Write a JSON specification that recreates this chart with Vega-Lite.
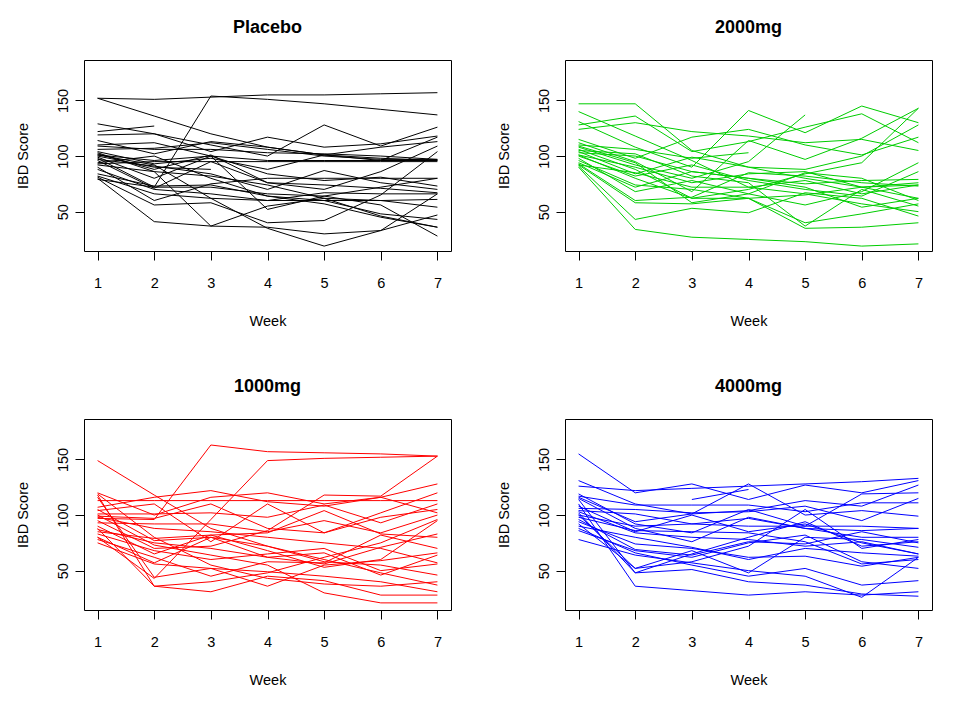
{
"$schema": "https://vega.github.io/schema/vega-lite/v6.json",
"background": "white",
"padding": {"left": 14, "top": 18, "right": 5, "bottom": 5},
"datasets": {"ibd": [
{"g":"Placebo","s":"P1","w":1,"v":152},{"g":"Placebo","s":"P1","w":2,"v":151},{"g":"Placebo","s":"P1","w":3,"v":153},{"g":"Placebo","s":"P1","w":4,"v":155},{"g":"Placebo","s":"P1","w":5,"v":155},{"g":"Placebo","s":"P1","w":6,"v":156},{"g":"Placebo","s":"P1","w":7,"v":157},
{"g":"Placebo","s":"P2","w":1,"v":98},{"g":"Placebo","s":"P2","w":2,"v":72},{"g":"Placebo","s":"P2","w":3,"v":154},{"g":"Placebo","s":"P2","w":4,"v":151},{"g":"Placebo","s":"P2","w":5,"v":147},{"g":"Placebo","s":"P2","w":6,"v":142},{"g":"Placebo","s":"P2","w":7,"v":137},
{"g":"Placebo","s":"P3","w":1,"v":152},{"g":"Placebo","s":"P3","w":2,"v":136},{"g":"Placebo","s":"P3","w":3,"v":120},{"g":"Placebo","s":"P3","w":4,"v":108},{"g":"Placebo","s":"P3","w":5,"v":101},{"g":"Placebo","s":"P3","w":6,"v":98},{"g":"Placebo","s":"P3","w":7,"v":96},
{"g":"Placebo","s":"P4","w":1,"v":122},{"g":"Placebo","s":"P4","w":2,"v":127},
{"g":"Placebo","s":"P5","w":1,"v":129},{"g":"Placebo","s":"P5","w":2,"v":120},{"g":"Placebo","s":"P5","w":3,"v":110},{"g":"Placebo","s":"P5","w":4,"v":100},{"g":"Placebo","s":"P5","w":5,"v":128},{"g":"Placebo","s":"P5","w":6,"v":109},{"g":"Placebo","s":"P5","w":7,"v":126},
{"g":"Placebo","s":"P6","w":1,"v":119},{"g":"Placebo","s":"P6","w":2,"v":120},{"g":"Placebo","s":"P6","w":3,"v":104},{"g":"Placebo","s":"P6","w":4,"v":117},{"g":"Placebo","s":"P6","w":5,"v":108},{"g":"Placebo","s":"P6","w":6,"v":111},{"g":"Placebo","s":"P6","w":7,"v":118},
{"g":"Placebo","s":"P7","w":1,"v":114},{"g":"Placebo","s":"P7","w":2,"v":102},{"g":"Placebo","s":"P7","w":3,"v":113},{"g":"Placebo","s":"P7","w":4,"v":108},{"g":"Placebo","s":"P7","w":5,"v":101},{"g":"Placebo","s":"P7","w":6,"v":96},{"g":"Placebo","s":"P7","w":7,"v":117},
{"g":"Placebo","s":"P8","w":1,"v":109},{"g":"Placebo","s":"P8","w":2,"v":106},{"g":"Placebo","s":"P8","w":3,"v":106},{"g":"Placebo","s":"P8","w":4,"v":103},{"g":"Placebo","s":"P8","w":5,"v":102},{"g":"Placebo","s":"P8","w":6,"v":100},{"g":"Placebo","s":"P8","w":7,"v":97},
{"g":"Placebo","s":"P9","w":1,"v":106},{"g":"Placebo","s":"P9","w":2,"v":107},{"g":"Placebo","s":"P9","w":3,"v":112},{"g":"Placebo","s":"P9","w":4,"v":106},{"g":"Placebo","s":"P9","w":5,"v":100},{"g":"Placebo","s":"P9","w":6,"v":97},{"g":"Placebo","s":"P9","w":7,"v":97},
{"g":"Placebo","s":"P10","w":1,"v":104},{"g":"Placebo","s":"P10","w":2,"v":93},{"g":"Placebo","s":"P10","w":3,"v":98},{"g":"Placebo","s":"P10","w":4,"v":88},{"g":"Placebo","s":"P10","w":5,"v":101},{"g":"Placebo","s":"P10","w":6,"v":108},{"g":"Placebo","s":"P10","w":7,"v":113},
{"g":"Placebo","s":"P11","w":1,"v":102},{"g":"Placebo","s":"P11","w":2,"v":88},{"g":"Placebo","s":"P11","w":3,"v":101},{"g":"Placebo","s":"P11","w":4,"v":76},{"g":"Placebo","s":"P11","w":5,"v":70},{"g":"Placebo","s":"P11","w":6,"v":86},{"g":"Placebo","s":"P11","w":7,"v":109},
{"g":"Placebo","s":"P12","w":1,"v":101},{"g":"Placebo","s":"P12","w":2,"v":96},{"g":"Placebo","s":"P12","w":3,"v":100},{"g":"Placebo","s":"P12","w":4,"v":84},{"g":"Placebo","s":"P12","w":5,"v":78},{"g":"Placebo","s":"P12","w":6,"v":81},{"g":"Placebo","s":"P12","w":7,"v":73},
{"g":"Placebo","s":"P13","w":1,"v":100},{"g":"Placebo","s":"P13","w":2,"v":90},{"g":"Placebo","s":"P13","w":3,"v":88},
{"g":"Placebo","s":"P14","w":1,"v":99},{"g":"Placebo","s":"P14","w":2,"v":80},{"g":"Placebo","s":"P14","w":3,"v":100},{"g":"Placebo","s":"P14","w":4,"v":52},{"g":"Placebo","s":"P14","w":5,"v":64},{"g":"Placebo","s":"P14","w":6,"v":72},{"g":"Placebo","s":"P14","w":7,"v":80},
{"g":"Placebo","s":"P15","w":1,"v":97},{"g":"Placebo","s":"P15","w":2,"v":91},{"g":"Placebo","s":"P15","w":3,"v":84},{"g":"Placebo","s":"P15","w":4,"v":70},{"g":"Placebo","s":"P15","w":5,"v":87},{"g":"Placebo","s":"P15","w":6,"v":76},{"g":"Placebo","s":"P15","w":7,"v":70},
{"g":"Placebo","s":"P16","w":1,"v":94},{"g":"Placebo","s":"P16","w":2,"v":100},{"g":"Placebo","s":"P16","w":3,"v":80},{"g":"Placebo","s":"P16","w":4,"v":64},{"g":"Placebo","s":"P16","w":5,"v":60},{"g":"Placebo","s":"P16","w":6,"v":48},{"g":"Placebo","s":"P16","w":7,"v":43},
{"g":"Placebo","s":"P17","w":1,"v":92},{"g":"Placebo","s":"P17","w":2,"v":86},{"g":"Placebo","s":"P17","w":3,"v":82},{"g":"Placebo","s":"P17","w":4,"v":74},{"g":"Placebo","s":"P17","w":5,"v":62},{"g":"Placebo","s":"P17","w":6,"v":46},{"g":"Placebo","s":"P17","w":7,"v":36},
{"g":"Placebo","s":"P18","w":1,"v":90},{"g":"Placebo","s":"P18","w":2,"v":60},{"g":"Placebo","s":"P18","w":3,"v":75},{"g":"Placebo","s":"P18","w":4,"v":80},{"g":"Placebo","s":"P18","w":5,"v":80},{"g":"Placebo","s":"P18","w":6,"v":80},{"g":"Placebo","s":"P18","w":7,"v":80},
{"g":"Placebo","s":"P19","w":1,"v":88},{"g":"Placebo","s":"P19","w":2,"v":70},{"g":"Placebo","s":"P19","w":3,"v":66},{"g":"Placebo","s":"P19","w":4,"v":60},{"g":"Placebo","s":"P19","w":5,"v":60},{"g":"Placebo","s":"P19","w":6,"v":60},{"g":"Placebo","s":"P19","w":7,"v":61},
{"g":"Placebo","s":"P20","w":1,"v":84},{"g":"Placebo","s":"P20","w":2,"v":73},{"g":"Placebo","s":"P20","w":3,"v":74},{"g":"Placebo","s":"P20","w":4,"v":64},{"g":"Placebo","s":"P20","w":5,"v":57},{"g":"Placebo","s":"P20","w":6,"v":45},{"g":"Placebo","s":"P20","w":7,"v":36},
{"g":"Placebo","s":"P21","w":1,"v":82},{"g":"Placebo","s":"P21","w":2,"v":66},{"g":"Placebo","s":"P21","w":3,"v":62},{"g":"Placebo","s":"P21","w":4,"v":60},{"g":"Placebo","s":"P21","w":5,"v":67},{"g":"Placebo","s":"P21","w":6,"v":66},{"g":"Placebo","s":"P21","w":7,"v":66},
{"g":"Placebo","s":"P22","w":1,"v":81},{"g":"Placebo","s":"P22","w":2,"v":56},{"g":"Placebo","s":"P22","w":3,"v":58},{"g":"Placebo","s":"P22","w":4,"v":40},{"g":"Placebo","s":"P22","w":5,"v":42},{"g":"Placebo","s":"P22","w":6,"v":65},{"g":"Placebo","s":"P22","w":7,"v":104},
{"g":"Placebo","s":"P23","w":1,"v":80},{"g":"Placebo","s":"P23","w":2,"v":41},{"g":"Placebo","s":"P23","w":3,"v":37},{"g":"Placebo","s":"P23","w":4,"v":36},{"g":"Placebo","s":"P23","w":5,"v":30},{"g":"Placebo","s":"P23","w":6,"v":33},{"g":"Placebo","s":"P23","w":7,"v":47},
{"g":"Placebo","s":"P24","w":1,"v":103},{"g":"Placebo","s":"P24","w":2,"v":86},{"g":"Placebo","s":"P24","w":3,"v":37},{"g":"Placebo","s":"P24","w":4,"v":55},{"g":"Placebo","s":"P24","w":5,"v":62},{"g":"Placebo","s":"P24","w":6,"v":60},{"g":"Placebo","s":"P24","w":7,"v":54},
{"g":"Placebo","s":"P25","w":1,"v":101},{"g":"Placebo","s":"P25","w":2,"v":92},{"g":"Placebo","s":"P25","w":3,"v":62},{"g":"Placebo","s":"P25","w":4,"v":35},{"g":"Placebo","s":"P25","w":5,"v":19},{"g":"Placebo","s":"P25","w":6,"v":33},{"g":"Placebo","s":"P25","w":7,"v":66},
{"g":"Placebo","s":"P26","w":1,"v":96},{"g":"Placebo","s":"P26","w":2,"v":71},{"g":"Placebo","s":"P26","w":3,"v":95},{"g":"Placebo","s":"P26","w":4,"v":76},{"g":"Placebo","s":"P26","w":5,"v":74},{"g":"Placebo","s":"P26","w":6,"v":71},{"g":"Placebo","s":"P26","w":7,"v":67},
{"g":"Placebo","s":"P27","w":1,"v":79},{"g":"Placebo","s":"P27","w":2,"v":72},{"g":"Placebo","s":"P27","w":3,"v":72},{"g":"Placebo","s":"P27","w":4,"v":66},{"g":"Placebo","s":"P27","w":5,"v":64},{"g":"Placebo","s":"P27","w":6,"v":56},{"g":"Placebo","s":"P27","w":7,"v":28},
{"g":"Placebo","s":"P28","w":1,"v":110},{"g":"Placebo","s":"P28","w":2,"v":112},{"g":"Placebo","s":"P28","w":3,"v":100},{"g":"Placebo","s":"P28","w":4,"v":96},{"g":"Placebo","s":"P28","w":5,"v":96},{"g":"Placebo","s":"P28","w":6,"v":96},{"g":"Placebo","s":"P28","w":7,"v":96},
{"g":"Placebo","s":"P29","w":1,"v":93},{"g":"Placebo","s":"P29","w":2,"v":95},{"g":"Placebo","s":"P29","w":3,"v":95},{"g":"Placebo","s":"P29","w":4,"v":95},{"g":"Placebo","s":"P29","w":5,"v":95},{"g":"Placebo","s":"P29","w":6,"v":95},{"g":"Placebo","s":"P29","w":7,"v":95},
{"g":"2000mg","s":"G1","w":1,"v":147},{"g":"2000mg","s":"G1","w":2,"v":147},{"g":"2000mg","s":"G1","w":3,"v":105},{"g":"2000mg","s":"G1","w":4,"v":90},{"g":"2000mg","s":"G1","w":5,"v":80},{"g":"2000mg","s":"G1","w":6,"v":72},{"g":"2000mg","s":"G1","w":7,"v":62},
{"g":"2000mg","s":"G2","w":1,"v":140},{"g":"2000mg","s":"G2","w":2,"v":118},{"g":"2000mg","s":"G2","w":3,"v":96},{"g":"2000mg","s":"G2","w":4,"v":72},{"g":"2000mg","s":"G2","w":5,"v":66},{"g":"2000mg","s":"G2","w":6,"v":57},{"g":"2000mg","s":"G2","w":7,"v":50},
{"g":"2000mg","s":"G3","w":1,"v":128},{"g":"2000mg","s":"G3","w":2,"v":136},{"g":"2000mg","s":"G3","w":3,"v":104},{"g":"2000mg","s":"G3","w":4,"v":113},{"g":"2000mg","s":"G3","w":5,"v":126},{"g":"2000mg","s":"G3","w":6,"v":138},{"g":"2000mg","s":"G3","w":7,"v":112},
{"g":"2000mg","s":"G4","w":1,"v":124},{"g":"2000mg","s":"G4","w":2,"v":130},{"g":"2000mg","s":"G4","w":3,"v":122},{"g":"2000mg","s":"G4","w":4,"v":118},{"g":"2000mg","s":"G4","w":5,"v":112},{"g":"2000mg","s":"G4","w":6,"v":115},{"g":"2000mg","s":"G4","w":7,"v":105},
{"g":"2000mg","s":"G5","w":1,"v":131},{"g":"2000mg","s":"G5","w":2,"v":108},{"g":"2000mg","s":"G5","w":3,"v":90},{"g":"2000mg","s":"G5","w":4,"v":141},{"g":"2000mg","s":"G5","w":5,"v":121},{"g":"2000mg","s":"G5","w":6,"v":145},{"g":"2000mg","s":"G5","w":7,"v":130},
{"g":"2000mg","s":"G6","w":1,"v":115},{"g":"2000mg","s":"G6","w":2,"v":98},{"g":"2000mg","s":"G6","w":3,"v":117},{"g":"2000mg","s":"G6","w":4,"v":124},{"g":"2000mg","s":"G6","w":5,"v":110},{"g":"2000mg","s":"G6","w":6,"v":101},{"g":"2000mg","s":"G6","w":7,"v":117},
{"g":"2000mg","s":"G7","w":1,"v":112},{"g":"2000mg","s":"G7","w":2,"v":95},{"g":"2000mg","s":"G7","w":3,"v":68},{"g":"2000mg","s":"G7","w":4,"v":114},{"g":"2000mg","s":"G7","w":5,"v":97},{"g":"2000mg","s":"G7","w":6,"v":116},{"g":"2000mg","s":"G7","w":7,"v":143},
{"g":"2000mg","s":"G8","w":1,"v":110},{"g":"2000mg","s":"G8","w":2,"v":106},{"g":"2000mg","s":"G8","w":3,"v":98},{"g":"2000mg","s":"G8","w":4,"v":103},
{"g":"2000mg","s":"G9","w":1,"v":108},{"g":"2000mg","s":"G9","w":2,"v":92},{"g":"2000mg","s":"G9","w":3,"v":80},{"g":"2000mg","s":"G9","w":4,"v":95},{"g":"2000mg","s":"G9","w":5,"v":137},
{"g":"2000mg","s":"G10","w":1,"v":106},{"g":"2000mg","s":"G10","w":2,"v":88},{"g":"2000mg","s":"G10","w":3,"v":62},{"g":"2000mg","s":"G10","w":4,"v":70},{"g":"2000mg","s":"G10","w":5,"v":84},{"g":"2000mg","s":"G10","w":6,"v":94},{"g":"2000mg","s":"G10","w":7,"v":143},
{"g":"2000mg","s":"G11","w":1,"v":104},{"g":"2000mg","s":"G11","w":2,"v":84},{"g":"2000mg","s":"G11","w":3,"v":99},{"g":"2000mg","s":"G11","w":4,"v":90},{"g":"2000mg","s":"G11","w":5,"v":88},{"g":"2000mg","s":"G11","w":6,"v":100},{"g":"2000mg","s":"G11","w":7,"v":128},
{"g":"2000mg","s":"G12","w":1,"v":103},{"g":"2000mg","s":"G12","w":2,"v":100},{"g":"2000mg","s":"G12","w":3,"v":86},{"g":"2000mg","s":"G12","w":4,"v":80},{"g":"2000mg","s":"G12","w":5,"v":75},{"g":"2000mg","s":"G12","w":6,"v":78},{"g":"2000mg","s":"G12","w":7,"v":79},
{"g":"2000mg","s":"G13","w":1,"v":101},{"g":"2000mg","s":"G13","w":2,"v":90},{"g":"2000mg","s":"G13","w":3,"v":76},{"g":"2000mg","s":"G13","w":4,"v":84},{"g":"2000mg","s":"G13","w":5,"v":86},{"g":"2000mg","s":"G13","w":6,"v":72},{"g":"2000mg","s":"G13","w":7,"v":74},
{"g":"2000mg","s":"G14","w":1,"v":100},{"g":"2000mg","s":"G14","w":2,"v":82},{"g":"2000mg","s":"G14","w":3,"v":92},{"g":"2000mg","s":"G14","w":4,"v":78},{"g":"2000mg","s":"G14","w":5,"v":70},{"g":"2000mg","s":"G14","w":6,"v":64},{"g":"2000mg","s":"G14","w":7,"v":86},
{"g":"2000mg","s":"G15","w":1,"v":98},{"g":"2000mg","s":"G15","w":2,"v":68},{"g":"2000mg","s":"G15","w":3,"v":78},{"g":"2000mg","s":"G15","w":4,"v":66},{"g":"2000mg","s":"G15","w":5,"v":56},{"g":"2000mg","s":"G15","w":6,"v":68},{"g":"2000mg","s":"G15","w":7,"v":94},
{"g":"2000mg","s":"G16","w":1,"v":96},{"g":"2000mg","s":"G16","w":2,"v":74},{"g":"2000mg","s":"G16","w":3,"v":70},{"g":"2000mg","s":"G16","w":4,"v":62},{"g":"2000mg","s":"G16","w":5,"v":40},{"g":"2000mg","s":"G16","w":6,"v":48},{"g":"2000mg","s":"G16","w":7,"v":57},
{"g":"2000mg","s":"G17","w":1,"v":93},{"g":"2000mg","s":"G17","w":2,"v":60},{"g":"2000mg","s":"G17","w":3,"v":63},{"g":"2000mg","s":"G17","w":4,"v":85},{"g":"2000mg","s":"G17","w":5,"v":82},{"g":"2000mg","s":"G17","w":6,"v":76},{"g":"2000mg","s":"G17","w":7,"v":73},
{"g":"2000mg","s":"G18","w":1,"v":92},{"g":"2000mg","s":"G18","w":2,"v":58},{"g":"2000mg","s":"G18","w":3,"v":57},{"g":"2000mg","s":"G18","w":4,"v":62},{"g":"2000mg","s":"G18","w":5,"v":65},{"g":"2000mg","s":"G18","w":6,"v":72},{"g":"2000mg","s":"G18","w":7,"v":76},
{"g":"2000mg","s":"G19","w":1,"v":91},{"g":"2000mg","s":"G19","w":2,"v":43},{"g":"2000mg","s":"G19","w":3,"v":53},{"g":"2000mg","s":"G19","w":4,"v":49},{"g":"2000mg","s":"G19","w":5,"v":67},{"g":"2000mg","s":"G19","w":6,"v":62},{"g":"2000mg","s":"G19","w":7,"v":46},
{"g":"2000mg","s":"G20","w":1,"v":90},{"g":"2000mg","s":"G20","w":2,"v":34},{"g":"2000mg","s":"G20","w":3,"v":27},{"g":"2000mg","s":"G20","w":4,"v":25},{"g":"2000mg","s":"G20","w":5,"v":23},{"g":"2000mg","s":"G20","w":6,"v":19},{"g":"2000mg","s":"G20","w":7,"v":21},
{"g":"2000mg","s":"G21","w":1,"v":101},{"g":"2000mg","s":"G21","w":2,"v":80},{"g":"2000mg","s":"G21","w":3,"v":62},{"g":"2000mg","s":"G21","w":4,"v":62},{"g":"2000mg","s":"G21","w":5,"v":35},{"g":"2000mg","s":"G21","w":6,"v":36},{"g":"2000mg","s":"G21","w":7,"v":40},
{"g":"2000mg","s":"G22","w":1,"v":105},{"g":"2000mg","s":"G22","w":2,"v":102},{"g":"2000mg","s":"G22","w":3,"v":82},{"g":"2000mg","s":"G22","w":4,"v":76},{"g":"2000mg","s":"G22","w":5,"v":37},{"g":"2000mg","s":"G22","w":6,"v":70},{"g":"2000mg","s":"G22","w":7,"v":55},
{"g":"2000mg","s":"G23","w":1,"v":94},{"g":"2000mg","s":"G23","w":2,"v":72},{"g":"2000mg","s":"G23","w":3,"v":86},{"g":"2000mg","s":"G23","w":4,"v":80},{"g":"2000mg","s":"G23","w":5,"v":72},{"g":"2000mg","s":"G23","w":6,"v":54},{"g":"2000mg","s":"G23","w":7,"v":62},
{"g":"2000mg","s":"G24","w":1,"v":109},{"g":"2000mg","s":"G24","w":2,"v":94},{"g":"2000mg","s":"G24","w":3,"v":58},{"g":"2000mg","s":"G24","w":4,"v":66},{"g":"2000mg","s":"G24","w":5,"v":85},{"g":"2000mg","s":"G24","w":6,"v":80},{"g":"2000mg","s":"G24","w":7,"v":60},
{"g":"2000mg","s":"G25","w":1,"v":92},{"g":"2000mg","s":"G25","w":2,"v":85},{"g":"2000mg","s":"G25","w":3,"v":72},{"g":"2000mg","s":"G25","w":4,"v":72},{"g":"2000mg","s":"G25","w":5,"v":78},{"g":"2000mg","s":"G25","w":6,"v":66},{"g":"2000mg","s":"G25","w":7,"v":74},
{"g":"1000mg","s":"R1","w":1,"v":149},{"g":"1000mg","s":"R1","w":2,"v":118},{"g":"1000mg","s":"R1","w":3,"v":88},{"g":"1000mg","s":"R1","w":4,"v":72},{"g":"1000mg","s":"R1","w":5,"v":60},{"g":"1000mg","s":"R1","w":6,"v":48},{"g":"1000mg","s":"R1","w":7,"v":37},
{"g":"1000mg","s":"R2","w":1,"v":97},{"g":"1000mg","s":"R2","w":2,"v":96},{"g":"1000mg","s":"R2","w":3,"v":163},{"g":"1000mg","s":"R2","w":4,"v":157},{"g":"1000mg","s":"R2","w":5,"v":156},{"g":"1000mg","s":"R2","w":6,"v":155},{"g":"1000mg","s":"R2","w":7,"v":153},
{"g":"1000mg","s":"R3","w":1,"v":80},{"g":"1000mg","s":"R3","w":2,"v":43},{"g":"1000mg","s":"R3","w":3,"v":96},{"g":"1000mg","s":"R3","w":4,"v":149},{"g":"1000mg","s":"R3","w":5,"v":151},{"g":"1000mg","s":"R3","w":6,"v":152},{"g":"1000mg","s":"R3","w":7,"v":153},
{"g":"1000mg","s":"R4","w":1,"v":113},{"g":"1000mg","s":"R4","w":2,"v":113},{"g":"1000mg","s":"R4","w":3,"v":113},{"g":"1000mg","s":"R4","w":4,"v":113},{"g":"1000mg","s":"R4","w":5,"v":113},{"g":"1000mg","s":"R4","w":6,"v":113},{"g":"1000mg","s":"R4","w":7,"v":113},
{"g":"1000mg","s":"R5","w":1,"v":120},{"g":"1000mg","s":"R5","w":2,"v":100},{"g":"1000mg","s":"R5","w":3,"v":116},{"g":"1000mg","s":"R5","w":4,"v":120},{"g":"1000mg","s":"R5","w":5,"v":110},{"g":"1000mg","s":"R5","w":6,"v":116},{"g":"1000mg","s":"R5","w":7,"v":102},
{"g":"1000mg","s":"R6","w":1,"v":118},{"g":"1000mg","s":"R6","w":2,"v":36},{"g":"1000mg","s":"R6","w":3,"v":40},{"g":"1000mg","s":"R6","w":4,"v":48},{"g":"1000mg","s":"R6","w":5,"v":62},{"g":"1000mg","s":"R6","w":6,"v":75},{"g":"1000mg","s":"R6","w":7,"v":96},
{"g":"1000mg","s":"R7","w":1,"v":116},{"g":"1000mg","s":"R7","w":2,"v":44},{"g":"1000mg","s":"R7","w":3,"v":52},{"g":"1000mg","s":"R7","w":4,"v":36},{"g":"1000mg","s":"R7","w":5,"v":55},{"g":"1000mg","s":"R7","w":6,"v":59},{"g":"1000mg","s":"R7","w":7,"v":66},
{"g":"1000mg","s":"R8","w":1,"v":107},{"g":"1000mg","s":"R8","w":2,"v":116},{"g":"1000mg","s":"R8","w":3,"v":122},{"g":"1000mg","s":"R8","w":4,"v":112},{"g":"1000mg","s":"R8","w":5,"v":108},{"g":"1000mg","s":"R8","w":6,"v":116},{"g":"1000mg","s":"R8","w":7,"v":128},
{"g":"1000mg","s":"R9","w":1,"v":104},{"g":"1000mg","s":"R9","w":2,"v":110},{"g":"1000mg","s":"R9","w":3,"v":76},{"g":"1000mg","s":"R9","w":4,"v":110},{"g":"1000mg","s":"R9","w":5,"v":84},{"g":"1000mg","s":"R9","w":6,"v":102},{"g":"1000mg","s":"R9","w":7,"v":120},
{"g":"1000mg","s":"R10","w":1,"v":101},{"g":"1000mg","s":"R10","w":2,"v":101},{"g":"1000mg","s":"R10","w":3,"v":102},{"g":"1000mg","s":"R10","w":4,"v":98},{"g":"1000mg","s":"R10","w":5,"v":109},{"g":"1000mg","s":"R10","w":6,"v":93},{"g":"1000mg","s":"R10","w":7,"v":110},
{"g":"1000mg","s":"R11","w":1,"v":99},{"g":"1000mg","s":"R11","w":2,"v":97},{"g":"1000mg","s":"R11","w":3,"v":110},{"g":"1000mg","s":"R11","w":4,"v":88},{"g":"1000mg","s":"R11","w":5,"v":84},{"g":"1000mg","s":"R11","w":6,"v":98},{"g":"1000mg","s":"R11","w":7,"v":105},
{"g":"1000mg","s":"R12","w":1,"v":95},{"g":"1000mg","s":"R12","w":2,"v":70},{"g":"1000mg","s":"R12","w":3,"v":72},{"g":"1000mg","s":"R12","w":4,"v":86},{"g":"1000mg","s":"R12","w":5,"v":118},{"g":"1000mg","s":"R12","w":6,"v":117},{"g":"1000mg","s":"R12","w":7,"v":153},
{"g":"1000mg","s":"R13","w":1,"v":93},{"g":"1000mg","s":"R13","w":2,"v":92},{"g":"1000mg","s":"R13","w":3,"v":92},{"g":"1000mg","s":"R13","w":4,"v":85},{"g":"1000mg","s":"R13","w":5,"v":95},{"g":"1000mg","s":"R13","w":6,"v":84},{"g":"1000mg","s":"R13","w":7,"v":100},
{"g":"1000mg","s":"R14","w":1,"v":90},{"g":"1000mg","s":"R14","w":2,"v":65},{"g":"1000mg","s":"R14","w":3,"v":82},{"g":"1000mg","s":"R14","w":4,"v":84},{"g":"1000mg","s":"R14","w":5,"v":104},{"g":"1000mg","s":"R14","w":6,"v":83},{"g":"1000mg","s":"R14","w":7,"v":80},
{"g":"1000mg","s":"R15","w":1,"v":87},{"g":"1000mg","s":"R15","w":2,"v":75},{"g":"1000mg","s":"R15","w":3,"v":70},{"g":"1000mg","s":"R15","w":4,"v":62},{"g":"1000mg","s":"R15","w":5,"v":56},{"g":"1000mg","s":"R15","w":6,"v":71},{"g":"1000mg","s":"R15","w":7,"v":83},
{"g":"1000mg","s":"R16","w":1,"v":85},{"g":"1000mg","s":"R16","w":2,"v":79},{"g":"1000mg","s":"R16","w":3,"v":82},{"g":"1000mg","s":"R16","w":4,"v":68},{"g":"1000mg","s":"R16","w":5,"v":53},{"g":"1000mg","s":"R16","w":6,"v":60},{"g":"1000mg","s":"R16","w":7,"v":95},
{"g":"1000mg","s":"R17","w":1,"v":83},{"g":"1000mg","s":"R17","w":2,"v":68},{"g":"1000mg","s":"R17","w":3,"v":60},{"g":"1000mg","s":"R17","w":4,"v":65},{"g":"1000mg","s":"R17","w":5,"v":70},{"g":"1000mg","s":"R17","w":6,"v":50},{"g":"1000mg","s":"R17","w":7,"v":56},
{"g":"1000mg","s":"R18","w":1,"v":80},{"g":"1000mg","s":"R18","w":2,"v":57},{"g":"1000mg","s":"R18","w":3,"v":80},{"g":"1000mg","s":"R18","w":4,"v":62},{"g":"1000mg","s":"R18","w":5,"v":66},{"g":"1000mg","s":"R18","w":6,"v":46},{"g":"1000mg","s":"R18","w":7,"v":64},
{"g":"1000mg","s":"R19","w":1,"v":78},{"g":"1000mg","s":"R19","w":2,"v":62},{"g":"1000mg","s":"R19","w":3,"v":45},{"g":"1000mg","s":"R19","w":4,"v":58},{"g":"1000mg","s":"R19","w":5,"v":57},{"g":"1000mg","s":"R19","w":6,"v":82},{"g":"1000mg","s":"R19","w":7,"v":70},
{"g":"1000mg","s":"R20","w":1,"v":75},{"g":"1000mg","s":"R20","w":2,"v":56},{"g":"1000mg","s":"R20","w":3,"v":52},{"g":"1000mg","s":"R20","w":4,"v":49},{"g":"1000mg","s":"R20","w":5,"v":45},{"g":"1000mg","s":"R20","w":6,"v":40},{"g":"1000mg","s":"R20","w":7,"v":31},
{"g":"1000mg","s":"R21","w":1,"v":100},{"g":"1000mg","s":"R21","w":2,"v":73},{"g":"1000mg","s":"R21","w":3,"v":64},{"g":"1000mg","s":"R21","w":4,"v":55},{"g":"1000mg","s":"R21","w":5,"v":30},{"g":"1000mg","s":"R21","w":6,"v":21},{"g":"1000mg","s":"R21","w":7,"v":21},
{"g":"1000mg","s":"R22","w":1,"v":88},{"g":"1000mg","s":"R22","w":2,"v":36},{"g":"1000mg","s":"R22","w":3,"v":31},{"g":"1000mg","s":"R22","w":4,"v":45},{"g":"1000mg","s":"R22","w":5,"v":41},{"g":"1000mg","s":"R22","w":6,"v":28},{"g":"1000mg","s":"R22","w":7,"v":28},
{"g":"1000mg","s":"R23","w":1,"v":119},{"g":"1000mg","s":"R23","w":2,"v":80},{"g":"1000mg","s":"R23","w":3,"v":55},{"g":"1000mg","s":"R23","w":4,"v":43},{"g":"1000mg","s":"R23","w":5,"v":38},{"g":"1000mg","s":"R23","w":6,"v":36},{"g":"1000mg","s":"R23","w":7,"v":40},
{"g":"1000mg","s":"R24","w":1,"v":98},{"g":"1000mg","s":"R24","w":2,"v":88},{"g":"1000mg","s":"R24","w":3,"v":85},{"g":"1000mg","s":"R24","w":4,"v":80},{"g":"1000mg","s":"R24","w":5,"v":75},{"g":"1000mg","s":"R24","w":6,"v":70},{"g":"1000mg","s":"R24","w":7,"v":57},
{"g":"1000mg","s":"R25","w":1,"v":105},{"g":"1000mg","s":"R25","w":2,"v":77},{"g":"1000mg","s":"R25","w":3,"v":80},{"g":"1000mg","s":"R25","w":4,"v":72},{"g":"1000mg","s":"R25","w":5,"v":58},{"g":"1000mg","s":"R25","w":6,"v":55},{"g":"1000mg","s":"R25","w":7,"v":46},
{"g":"4000mg","s":"B1","w":1,"v":155},{"g":"4000mg","s":"B1","w":2,"v":120},{"g":"4000mg","s":"B1","w":3,"v":128},{"g":"4000mg","s":"B1","w":4,"v":114},{"g":"4000mg","s":"B1","w":5,"v":127},{"g":"4000mg","s":"B1","w":6,"v":120},{"g":"4000mg","s":"B1","w":7,"v":131},
{"g":"4000mg","s":"B2","w":1,"v":126},{"g":"4000mg","s":"B2","w":2,"v":122},{"g":"4000mg","s":"B2","w":3,"v":124},{"g":"4000mg","s":"B2","w":4,"v":126},{"g":"4000mg","s":"B2","w":5,"v":128},{"g":"4000mg","s":"B2","w":6,"v":130},{"g":"4000mg","s":"B2","w":7,"v":133},
{"g":"4000mg","s":"B3","w":3,"v":114},{"g":"4000mg","s":"B3","w":4,"v":123},
{"g":"4000mg","s":"B4","w":1,"v":131},{"g":"4000mg","s":"B4","w":2,"v":110},{"g":"4000mg","s":"B4","w":3,"v":101},{"g":"4000mg","s":"B4","w":4,"v":104},{"g":"4000mg","s":"B4","w":5,"v":113},{"g":"4000mg","s":"B4","w":6,"v":108},{"g":"4000mg","s":"B4","w":7,"v":127},
{"g":"4000mg","s":"B5","w":1,"v":119},{"g":"4000mg","s":"B5","w":2,"v":92},{"g":"4000mg","s":"B5","w":3,"v":84},{"g":"4000mg","s":"B5","w":4,"v":105},{"g":"4000mg","s":"B5","w":5,"v":90},{"g":"4000mg","s":"B5","w":6,"v":119},{"g":"4000mg","s":"B5","w":7,"v":120},
{"g":"4000mg","s":"B6","w":1,"v":117},{"g":"4000mg","s":"B6","w":2,"v":109},{"g":"4000mg","s":"B6","w":3,"v":109},{"g":"4000mg","s":"B6","w":4,"v":109},{"g":"4000mg","s":"B6","w":5,"v":103},{"g":"4000mg","s":"B6","w":6,"v":111},{"g":"4000mg","s":"B6","w":7,"v":111},
{"g":"4000mg","s":"B7","w":1,"v":116},{"g":"4000mg","s":"B7","w":2,"v":94},{"g":"4000mg","s":"B7","w":3,"v":101},{"g":"4000mg","s":"B7","w":4,"v":128},{"g":"4000mg","s":"B7","w":5,"v":100},{"g":"4000mg","s":"B7","w":6,"v":104},{"g":"4000mg","s":"B7","w":7,"v":99},
{"g":"4000mg","s":"B8","w":1,"v":115},{"g":"4000mg","s":"B8","w":2,"v":88},{"g":"4000mg","s":"B8","w":3,"v":76},{"g":"4000mg","s":"B8","w":4,"v":98},{"g":"4000mg","s":"B8","w":5,"v":88},{"g":"4000mg","s":"B8","w":6,"v":80},{"g":"4000mg","s":"B8","w":7,"v":80},
{"g":"4000mg","s":"B9","w":1,"v":108},{"g":"4000mg","s":"B9","w":2,"v":85},{"g":"4000mg","s":"B9","w":3,"v":100},{"g":"4000mg","s":"B9","w":4,"v":85},{"g":"4000mg","s":"B9","w":5,"v":92},{"g":"4000mg","s":"B9","w":6,"v":75},{"g":"4000mg","s":"B9","w":7,"v":65},
{"g":"4000mg","s":"B10","w":1,"v":106},{"g":"4000mg","s":"B10","w":2,"v":105},{"g":"4000mg","s":"B10","w":3,"v":102},{"g":"4000mg","s":"B10","w":4,"v":103},{"g":"4000mg","s":"B10","w":5,"v":108},{"g":"4000mg","s":"B10","w":6,"v":95},{"g":"4000mg","s":"B10","w":7,"v":115},
{"g":"4000mg","s":"B11","w":1,"v":104},{"g":"4000mg","s":"B11","w":2,"v":101},{"g":"4000mg","s":"B11","w":3,"v":92},{"g":"4000mg","s":"B11","w":4,"v":90},{"g":"4000mg","s":"B11","w":5,"v":90},{"g":"4000mg","s":"B11","w":6,"v":90},{"g":"4000mg","s":"B11","w":7,"v":88},
{"g":"4000mg","s":"B12","w":1,"v":102},{"g":"4000mg","s":"B12","w":2,"v":48},{"g":"4000mg","s":"B12","w":3,"v":65},{"g":"4000mg","s":"B12","w":4,"v":80},{"g":"4000mg","s":"B12","w":5,"v":94},{"g":"4000mg","s":"B12","w":6,"v":72},{"g":"4000mg","s":"B12","w":7,"v":76},
{"g":"4000mg","s":"B13","w":1,"v":100},{"g":"4000mg","s":"B13","w":2,"v":52},{"g":"4000mg","s":"B13","w":3,"v":58},{"g":"4000mg","s":"B13","w":4,"v":72},{"g":"4000mg","s":"B13","w":5,"v":105},{"g":"4000mg","s":"B13","w":6,"v":70},{"g":"4000mg","s":"B13","w":7,"v":78},
{"g":"4000mg","s":"B14","w":1,"v":98},{"g":"4000mg","s":"B14","w":2,"v":86},{"g":"4000mg","s":"B14","w":3,"v":85},{"g":"4000mg","s":"B14","w":4,"v":84},{"g":"4000mg","s":"B14","w":5,"v":76},{"g":"4000mg","s":"B14","w":6,"v":56},{"g":"4000mg","s":"B14","w":7,"v":60},
{"g":"4000mg","s":"B15","w":1,"v":96},{"g":"4000mg","s":"B15","w":2,"v":69},{"g":"4000mg","s":"B15","w":3,"v":64},{"g":"4000mg","s":"B15","w":4,"v":76},{"g":"4000mg","s":"B15","w":5,"v":74},{"g":"4000mg","s":"B15","w":6,"v":85},{"g":"4000mg","s":"B15","w":7,"v":75},
{"g":"4000mg","s":"B16","w":1,"v":94},{"g":"4000mg","s":"B16","w":2,"v":74},{"g":"4000mg","s":"B16","w":3,"v":70},{"g":"4000mg","s":"B16","w":4,"v":62},{"g":"4000mg","s":"B16","w":5,"v":63},{"g":"4000mg","s":"B16","w":6,"v":54},{"g":"4000mg","s":"B16","w":7,"v":62},
{"g":"4000mg","s":"B17","w":1,"v":92},{"g":"4000mg","s":"B17","w":2,"v":52},{"g":"4000mg","s":"B17","w":3,"v":68},{"g":"4000mg","s":"B17","w":4,"v":48},{"g":"4000mg","s":"B17","w":5,"v":80},{"g":"4000mg","s":"B17","w":6,"v":78},{"g":"4000mg","s":"B17","w":7,"v":71},
{"g":"4000mg","s":"B18","w":1,"v":90},{"g":"4000mg","s":"B18","w":2,"v":80},{"g":"4000mg","s":"B18","w":3,"v":71},{"g":"4000mg","s":"B18","w":4,"v":60},{"g":"4000mg","s":"B18","w":5,"v":70},{"g":"4000mg","s":"B18","w":6,"v":66},{"g":"4000mg","s":"B18","w":7,"v":63},
{"g":"4000mg","s":"B19","w":1,"v":88},{"g":"4000mg","s":"B19","w":2,"v":66},{"g":"4000mg","s":"B19","w":3,"v":55},{"g":"4000mg","s":"B19","w":4,"v":45},{"g":"4000mg","s":"B19","w":5,"v":52},{"g":"4000mg","s":"B19","w":6,"v":37},{"g":"4000mg","s":"B19","w":7,"v":41},
{"g":"4000mg","s":"B20","w":1,"v":86},{"g":"4000mg","s":"B20","w":2,"v":68},{"g":"4000mg","s":"B20","w":3,"v":62},{"g":"4000mg","s":"B20","w":4,"v":75},{"g":"4000mg","s":"B20","w":5,"v":82},{"g":"4000mg","s":"B20","w":6,"v":58},{"g":"4000mg","s":"B20","w":7,"v":52},
{"g":"4000mg","s":"B21","w":1,"v":78},{"g":"4000mg","s":"B21","w":2,"v":64},{"g":"4000mg","s":"B21","w":3,"v":57},{"g":"4000mg","s":"B21","w":4,"v":50},{"g":"4000mg","s":"B21","w":5,"v":45},{"g":"4000mg","s":"B21","w":6,"v":26},{"g":"4000mg","s":"B21","w":7,"v":62},
{"g":"4000mg","s":"B22","w":1,"v":110},{"g":"4000mg","s":"B22","w":2,"v":36},{"g":"4000mg","s":"B22","w":3,"v":32},{"g":"4000mg","s":"B22","w":4,"v":28},{"g":"4000mg","s":"B22","w":5,"v":31},{"g":"4000mg","s":"B22","w":6,"v":28},{"g":"4000mg","s":"B22","w":7,"v":31},
{"g":"4000mg","s":"B23","w":1,"v":114},{"g":"4000mg","s":"B23","w":2,"v":48},{"g":"4000mg","s":"B23","w":3,"v":51},{"g":"4000mg","s":"B23","w":4,"v":40},{"g":"4000mg","s":"B23","w":5,"v":37},{"g":"4000mg","s":"B23","w":6,"v":29},{"g":"4000mg","s":"B23","w":7,"v":27},
{"g":"4000mg","s":"B24","w":1,"v":100},{"g":"4000mg","s":"B24","w":2,"v":90},{"g":"4000mg","s":"B24","w":3,"v":92},{"g":"4000mg","s":"B24","w":4,"v":97},{"g":"4000mg","s":"B24","w":5,"v":88},{"g":"4000mg","s":"B24","w":6,"v":86},{"g":"4000mg","s":"B24","w":7,"v":88},
{"g":"4000mg","s":"B25","w":1,"v":103},{"g":"4000mg","s":"B25","w":2,"v":84},{"g":"4000mg","s":"B25","w":3,"v":80},{"g":"4000mg","s":"B25","w":4,"v":78},{"g":"4000mg","s":"B25","w":5,"v":72},{"g":"4000mg","s":"B25","w":6,"v":76},{"g":"4000mg","s":"B25","w":7,"v":65}
]},
"columns": 2,
"spacing": {"row": 168, "column": 114},
"bounds": "flush",
"concat": [
{"width": 367, "height": 191, "title": "Placebo", "data": {"name": "ibd"}, "transform": [{"filter": "datum.g === 'Placebo'"}],
 "mark": {"type": "line", "color": "#000000", "strokeWidth": 1},
 "encoding": {"x": {"field": "w", "type": "quantitative", "scale": {"domain": [0.76, 7.24], "nice": false, "zero": false}, "axis": {"title": "Week", "values": [1,2,3,4,5,6,7]}},
  "y": {"field": "v", "type": "quantitative", "scale": {"domain": [14.6, 186.4], "nice": false, "zero": false}, "axis": {"title": "IBD Score", "values": [50,100,150]}},
  "detail": {"field": "s"}}},
{"width": 367, "height": 191, "title": "2000mg", "data": {"name": "ibd"}, "transform": [{"filter": "datum.g === '2000mg'"}],
 "mark": {"type": "line", "color": "#00CD00", "strokeWidth": 1},
 "encoding": {"x": {"field": "w", "type": "quantitative", "scale": {"domain": [0.76, 7.24], "nice": false, "zero": false}, "axis": {"title": "Week", "values": [1,2,3,4,5,6,7]}},
  "y": {"field": "v", "type": "quantitative", "scale": {"domain": [14.6, 186.4], "nice": false, "zero": false}, "axis": {"title": "IBD Score", "values": [50,100,150]}},
  "detail": {"field": "s"}}},
{"width": 367, "height": 191, "title": "1000mg", "data": {"name": "ibd"}, "transform": [{"filter": "datum.g === '1000mg'"}],
 "mark": {"type": "line", "color": "#FF0000", "strokeWidth": 1},
 "encoding": {"x": {"field": "w", "type": "quantitative", "scale": {"domain": [0.76, 7.24], "nice": false, "zero": false}, "axis": {"title": "Week", "values": [1,2,3,4,5,6,7]}},
  "y": {"field": "v", "type": "quantitative", "scale": {"domain": [14.6, 186.4], "nice": false, "zero": false}, "axis": {"title": "IBD Score", "values": [50,100,150]}},
  "detail": {"field": "s"}}},
{"width": 367, "height": 191, "title": "4000mg", "data": {"name": "ibd"}, "transform": [{"filter": "datum.g === '4000mg'"}],
 "mark": {"type": "line", "color": "#0000FF", "strokeWidth": 1},
 "encoding": {"x": {"field": "w", "type": "quantitative", "scale": {"domain": [0.76, 7.24], "nice": false, "zero": false}, "axis": {"title": "Week", "values": [1,2,3,4,5,6,7]}},
  "y": {"field": "v", "type": "quantitative", "scale": {"domain": [14.6, 186.4], "nice": false, "zero": false}, "axis": {"title": "IBD Score", "values": [50,100,150]}},
  "detail": {"field": "s"}}}
],
"config": {
 "font": "Liberation Sans",
 "view": {"stroke": "#000000", "strokeWidth": 1},
 "title": {"font": "Liberation Sans", "fontSize": 18, "fontWeight": "bold", "color": "#000000", "anchor": "middle", "frame": "group", "baseline": "alphabetic", "offset": 23},
 "axis": {"domain": false, "grid": false, "ticks": true, "tickColor": "#000000", "tickSize": 9, "tickWidth": 1,
  "labelFont": "Liberation Sans", "labelFontSize": 14.5, "labelColor": "#000000", "labelOverlap": false, "labelFlush": false, "labelBound": false,
  "titleFont": "Liberation Sans", "titleFontSize": 14.5, "titleFontWeight": "normal", "titleColor": "#000000"},
 "axisX": {"labelAngle": 0, "labelPadding": 16, "titlePadding": 25},
 "axisY": {"labelAngle": 270, "labelAlign": "center", "labelBaseline": "bottom", "labelPadding": 5, "titlePadding": 25}
}
}
